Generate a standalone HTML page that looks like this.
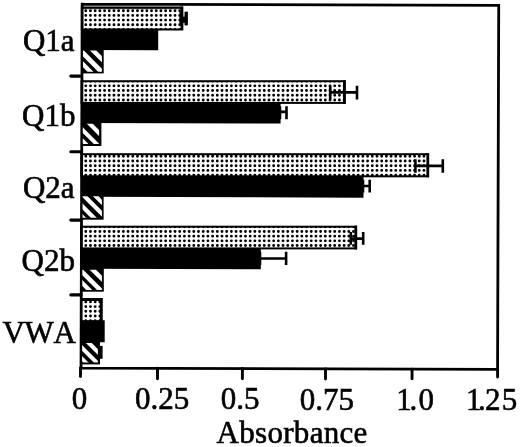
<!DOCTYPE html>
<html lang="en"><head><meta charset="utf-8"><title>Absorbance chart</title>
<style>
html,body{margin:0;padding:0;background:#fff;}
body{width:520px;height:447px;overflow:hidden;}
svg{display:block;}
text{font-family:"Liberation Serif","Times New Roman",Times,serif;font-size:31px;fill:#000;stroke:#000;stroke-width:0.6px;font-kerning:none;}
</style></head><body>
<svg width="520" height="447" viewBox="0 0 520 447">
<rect width="520" height="447" fill="#fff"/>
<g transform="rotate(0.18 290 186)">
<g stroke="#000" stroke-width="2.8" fill="none" stroke-linecap="butt">
<path d="M81.60 3.30 V370.10 M81.60 4.70 H499.55 M498.15 4.70 V370.10 M81.60 368.70 H498.15"/>
</g></g>
<g stroke="#000" stroke-width="2.9" fill="none" stroke-linecap="round">
<path d="M80.50 368.00 V376.50"/>
<path d="M157.50 368.27 V378.80"/>
<path d="M242.40 368.56 V378.80"/>
<path d="M325.50 368.85 V378.95"/>
<path d="M412.05 369.15 V378.80"/>
<path d="M497.60 369.45 V377.10"/>
<path d="M70.9 76.10 H81" stroke-width="3.2"/>
<path d="M70.9 151.75 H81" stroke-width="3.2"/>
<path d="M70.9 220.10 H81" stroke-width="3.2"/>
<path d="M70.9 294.80 H81" stroke-width="3.2"/>
</g>
<clipPath id="q0"><rect x="81.87" y="7.50" width="100.33" height="22.00"/></clipPath>
<g clip-path="url(#q0)" stroke="#000" stroke-width="2.90" stroke-linecap="round" stroke-dasharray="0 4.697" fill="none">
<path d="M85.78 10.70 H187.90 M85.78 15.40 H187.90 M85.78 20.09 H187.90 M85.78 24.79 H187.90 M85.78 29.49 H187.90 M85.78 34.18 H187.90"/>
</g>
<rect x="81.87" y="7.50" width="100.33" height="22.00" fill="none" stroke="#000" stroke-width="2"/>
<rect x="180.50" y="6.50" width="2.7" height="23.50" fill="#000"/>
<polygon points="81.87,29.00 158.20,29.00 158.20,50.20 81.87,49.96" fill="#000"/>
<rect x="81.87" y="49.00" width="21.83" height="24.40" fill="#000"/>
<clipPath id="k0"><rect x="82.97" y="50.50" width="18.93" height="21.30"/></clipPath>
<g clip-path="url(#k0)" fill="#fff">
<polygon points="88.30,48.80 94.60,48.80 121.20,75.40 114.90,75.40"/>
<polygon points="75.20,48.80 82.10,48.80 108.70,75.40 101.80,75.40"/>
<polygon points="64.50,48.80 70.50,48.80 97.10,75.40 91.10,75.40"/>
</g>
<path d="M180.70 18.50 H186.20 M180.70 12.20 V25.00 M186.20 12.20 V25.00" stroke="#000" stroke-width="2.6" fill="none"/>
<clipPath id="q1"><rect x="81.65" y="81.20" width="263.05" height="21.70"/></clipPath>
<g clip-path="url(#q1)" stroke="#000" stroke-width="2.90" stroke-linecap="round" stroke-dasharray="0 4.697" fill="none">
<path d="M85.78 10.70 H350.40 M85.78 15.40 H350.40 M85.78 20.09 H350.40 M85.78 24.79 H350.40 M85.78 29.49 H350.40 M85.78 34.18 H350.40 M85.78 38.88 H350.40 M85.78 43.58 H350.40 M85.78 48.28 H350.40 M85.78 52.97 H350.40 M85.78 57.67 H350.40 M85.78 62.37 H350.40 M85.78 67.06 H350.40 M85.78 71.76 H350.40 M85.78 76.46 H350.40 M85.78 81.16 H350.40 M85.78 85.85 H350.40 M85.78 90.55 H350.40 M85.78 95.25 H350.40 M85.78 99.94 H350.40 M85.78 104.64 H350.40"/>
</g>
<rect x="81.65" y="81.20" width="263.05" height="21.70" fill="none" stroke="#000" stroke-width="2"/>
<rect x="343.00" y="80.20" width="2.7" height="23.70" fill="#000"/>
<polygon points="81.65,103.00 280.60,103.00 280.60,123.60 81.65,122.98" fill="#000"/>
<rect x="81.65" y="122.50" width="19.75" height="23.50" fill="#000"/>
<clipPath id="k1"><rect x="82.75" y="123.80" width="16.35" height="20.10"/></clipPath>
<g clip-path="url(#k1)" fill="#fff">
<polygon points="84.90,121.80 90.85,121.80 117.05,148.00 111.10,148.00"/>
<polygon points="71.60,121.80 77.25,121.80 103.45,148.00 97.80,148.00"/>
<polygon points="61.00,121.80 66.30,121.80 92.50,148.00 87.20,148.00"/>
</g>
<path d="M330.20 92.40 H357.00 M330.20 85.80 V99.50 M357.00 85.80 V99.50" stroke="#000" stroke-width="2.6" fill="none"/>
<path d="M280.00 111.90 H286.50 M280.00 106.30 V119.30 M286.50 106.30 V119.30" stroke="#000" stroke-width="2.6" fill="none"/>
<clipPath id="q2"><rect x="81.44" y="154.20" width="346.66" height="22.10"/></clipPath>
<g clip-path="url(#q2)" stroke="#000" stroke-width="2.90" stroke-linecap="round" stroke-dasharray="0 4.697" fill="none">
<path d="M85.78 10.70 H433.80 M85.78 15.40 H433.80 M85.78 20.09 H433.80 M85.78 24.79 H433.80 M85.78 29.49 H433.80 M85.78 34.18 H433.80 M85.78 38.88 H433.80 M85.78 43.58 H433.80 M85.78 48.28 H433.80 M85.78 52.97 H433.80 M85.78 57.67 H433.80 M85.78 62.37 H433.80 M85.78 67.06 H433.80 M85.78 71.76 H433.80 M85.78 76.46 H433.80 M85.78 81.16 H433.80 M85.78 85.85 H433.80 M85.78 90.55 H433.80 M85.78 95.25 H433.80 M85.78 99.94 H433.80 M85.78 104.64 H433.80 M85.78 109.34 H433.80 M85.78 114.03 H433.80 M85.78 118.73 H433.80 M85.78 123.43 H433.80 M85.78 128.13 H433.80 M85.78 132.82 H433.80 M85.78 137.52 H433.80 M85.78 142.22 H433.80 M85.78 146.91 H433.80 M85.78 151.61 H433.80 M85.78 156.31 H433.80 M85.78 161.00 H433.80 M85.78 165.70 H433.80 M85.78 170.40 H433.80 M85.78 175.10 H433.80 M85.78 179.79 H433.80"/>
</g>
<rect x="81.44" y="154.20" width="346.66" height="22.10" fill="none" stroke="#000" stroke-width="2"/>
<rect x="426.40" y="153.20" width="2.7" height="24.10" fill="#000"/>
<polygon points="81.44,176.50 363.50,176.50 363.50,197.70 81.44,196.83" fill="#000"/>
<rect x="81.44" y="195.00" width="22.16" height="24.70" fill="#000"/>
<clipPath id="k2"><rect x="82.54" y="196.30" width="19.36" height="21.40"/></clipPath>
<g clip-path="url(#k2)" fill="#fff">
<polygon points="91.20,194.50 96.80,194.50 124.00,221.70 118.40,221.70"/>
<polygon points="79.75,194.50 85.80,194.50 113.00,221.70 106.95,221.70"/>
<polygon points="67.50,194.50 73.50,194.50 100.70,221.70 94.70,221.70"/>
<polygon points="56.80,194.50 62.80,194.50 90.00,221.70 84.00,221.70"/>
</g>
<path d="M415.40 165.90 H442.80 M415.40 159.30 V172.70 M442.80 159.30 V172.70" stroke="#000" stroke-width="2.6" fill="none"/>
<path d="M363.00 186.00 H369.70 M363.00 179.70 V192.60 M369.70 179.70 V192.60" stroke="#000" stroke-width="2.6" fill="none"/>
<clipPath id="q3"><rect x="81.22" y="226.70" width="274.88" height="21.70"/></clipPath>
<g clip-path="url(#q3)" stroke="#000" stroke-width="2.90" stroke-linecap="round" stroke-dasharray="0 4.697" fill="none">
<path d="M85.78 10.70 H361.80 M85.78 15.40 H361.80 M85.78 20.09 H361.80 M85.78 24.79 H361.80 M85.78 29.49 H361.80 M85.78 34.18 H361.80 M85.78 38.88 H361.80 M85.78 43.58 H361.80 M85.78 48.28 H361.80 M85.78 52.97 H361.80 M85.78 57.67 H361.80 M85.78 62.37 H361.80 M85.78 67.06 H361.80 M85.78 71.76 H361.80 M85.78 76.46 H361.80 M85.78 81.16 H361.80 M85.78 85.85 H361.80 M85.78 90.55 H361.80 M85.78 95.25 H361.80 M85.78 99.94 H361.80 M85.78 104.64 H361.80 M85.78 109.34 H361.80 M85.78 114.03 H361.80 M85.78 118.73 H361.80 M85.78 123.43 H361.80 M85.78 128.13 H361.80 M85.78 132.82 H361.80 M85.78 137.52 H361.80 M85.78 142.22 H361.80 M85.78 146.91 H361.80 M85.78 151.61 H361.80 M85.78 156.31 H361.80 M85.78 161.00 H361.80 M85.78 165.70 H361.80 M85.78 170.40 H361.80 M85.78 175.10 H361.80 M85.78 179.79 H361.80 M85.78 184.49 H361.80 M85.78 189.19 H361.80 M85.78 193.88 H361.80 M85.78 198.58 H361.80 M85.78 203.28 H361.80 M85.78 207.97 H361.80 M85.78 212.67 H361.80 M85.78 217.37 H361.80 M85.78 222.07 H361.80 M85.78 226.76 H361.80 M85.78 231.46 H361.80 M85.78 236.16 H361.80 M85.78 240.85 H361.80 M85.78 245.55 H361.80 M85.78 250.25 H361.80"/>
</g>
<rect x="81.22" y="226.70" width="274.88" height="21.70" fill="none" stroke="#000" stroke-width="2"/>
<rect x="354.40" y="225.70" width="2.7" height="23.70" fill="#000"/>
<polygon points="81.22,248.50 260.80,248.50 260.80,269.30 81.22,268.74" fill="#000"/>
<rect x="81.22" y="268.10" width="22.58" height="23.60" fill="#000"/>
<clipPath id="k3"><rect x="82.32" y="269.80" width="19.58" height="20.30"/></clipPath>
<g clip-path="url(#k3)" fill="#fff">
<polygon points="88.00,268.07 94.30,268.07 119.93,293.70 113.63,293.70"/>
<polygon points="75.05,268.07 81.45,268.07 107.08,293.70 100.68,293.70"/>
<polygon points="64.40,268.07 70.35,268.07 95.98,293.70 90.03,293.70"/>
</g>
<path d="M350.80 238.60 H363.20 M350.80 231.90 V244.80 M363.20 231.90 V244.80" stroke="#000" stroke-width="2.6" fill="none"/>
<path d="M260.00 258.50 H286.10 M260.00 251.80 V265.00 M286.10 251.80 V265.00" stroke="#000" stroke-width="2.6" fill="none"/>
<clipPath id="q4"><rect x="81.01" y="299.20" width="20.49" height="22.40"/></clipPath>
<g clip-path="url(#q4)" stroke="#000" stroke-width="2.90" stroke-linecap="round" stroke-dasharray="0 4.697" fill="none">
<path d="M85.78 10.70 H107.20 M85.78 15.40 H107.20 M85.78 20.09 H107.20 M85.78 24.79 H107.20 M85.78 29.49 H107.20 M85.78 34.18 H107.20 M85.78 38.88 H107.20 M85.78 43.58 H107.20 M85.78 48.28 H107.20 M85.78 52.97 H107.20 M85.78 57.67 H107.20 M85.78 62.37 H107.20 M85.78 67.06 H107.20 M85.78 71.76 H107.20 M85.78 76.46 H107.20 M85.78 81.16 H107.20 M85.78 85.85 H107.20 M85.78 90.55 H107.20 M85.78 95.25 H107.20 M85.78 99.94 H107.20 M85.78 104.64 H107.20 M85.78 109.34 H107.20 M85.78 114.03 H107.20 M85.78 118.73 H107.20 M85.78 123.43 H107.20 M85.78 128.13 H107.20 M85.78 132.82 H107.20 M85.78 137.52 H107.20 M85.78 142.22 H107.20 M85.78 146.91 H107.20 M85.78 151.61 H107.20 M85.78 156.31 H107.20 M85.78 161.00 H107.20 M85.78 165.70 H107.20 M85.78 170.40 H107.20 M85.78 175.10 H107.20 M85.78 179.79 H107.20 M85.78 184.49 H107.20 M85.78 189.19 H107.20 M85.78 193.88 H107.20 M85.78 198.58 H107.20 M85.78 203.28 H107.20 M85.78 207.97 H107.20 M85.78 212.67 H107.20 M85.78 217.37 H107.20 M85.78 222.07 H107.20 M85.78 226.76 H107.20 M85.78 231.46 H107.20 M85.78 236.16 H107.20 M85.78 240.85 H107.20 M85.78 245.55 H107.20 M85.78 250.25 H107.20 M85.78 254.94 H107.20 M85.78 259.64 H107.20 M85.78 264.34 H107.20 M85.78 269.04 H107.20 M85.78 273.73 H107.20 M85.78 278.43 H107.20 M85.78 283.13 H107.20 M85.78 287.82 H107.20 M85.78 292.52 H107.20 M85.78 297.22 H107.20 M85.78 301.91 H107.20 M85.78 306.61 H107.20 M85.78 311.31 H107.20 M85.78 316.01 H107.20 M85.78 320.70 H107.20 M85.78 325.40 H107.20"/>
</g>
<rect x="81.01" y="299.20" width="20.49" height="22.40" fill="none" stroke="#000" stroke-width="2"/>
<rect x="99.80" y="298.20" width="2.7" height="23.10" fill="#000"/>
<polygon points="81.01,320.30 104.70,320.30 104.70,342.30 81.01,342.23" fill="#000"/>
<rect x="81.01" y="341.00" width="18.99" height="23.40" fill="#000"/>
<clipPath id="k4"><rect x="82.11" y="343.10" width="15.79" height="19.40"/></clipPath>
<g clip-path="url(#k4)" fill="#fff">
<polygon points="84.30,341.40 90.20,341.40 115.20,366.40 109.30,366.40"/>
<polygon points="72.70,341.40 78.30,341.40 103.30,366.40 97.70,366.40"/>
<polygon points="62.00,341.40 67.35,341.40 92.35,366.40 87.00,366.40"/>
</g>
<rect x="81" y="298.2" width="21.5" height="2.8" fill="#000"/>
<rect x="181" y="16.6" width="5.5" height="6.2" fill="#000"/>
<rect x="184.6" y="11.7" width="3.2" height="13.7" fill="#000"/>
<rect x="81.5" y="8.3" width="100" height="0.8" fill="#000"/>
<path d="M101.3 345.9 V358.8" stroke="#000" stroke-width="2.6" fill="none"/>
<text x="74.60" y="51.10" text-anchor="end">Q1a</text>
<text x="75.50" y="126.30" text-anchor="end">Q1b</text>
<text x="74.60" y="197.70" text-anchor="end">Q2a</text>
<text x="74.90" y="270.50" text-anchor="end">Q2b</text>
<text x="2.5 24.6 53.6" y="343.40">VWA</text>
<text x="79.40" y="409.30" text-anchor="middle">0</text>
<text x="162.00" y="409.30" text-anchor="middle">0.25</text>
<text x="240.20" y="409.30" text-anchor="middle">0.5</text>
<text x="326.80" y="409.90" text-anchor="middle">0.75</text>
<text x="396.2 409.4 418.6" y="410.20">1.0</text>
<text x="465.9 478.1 485.0 501.7" y="410.20">1.25</text>
<text x="216.60" y="443.20" text-anchor="start" letter-spacing="0.3">Absorbance</text>
</svg>
</body></html>
